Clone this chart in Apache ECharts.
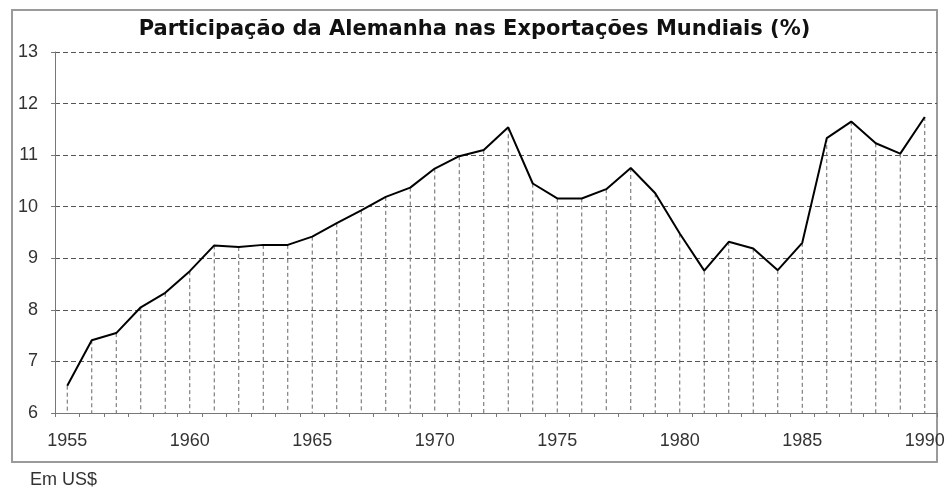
<!DOCTYPE html>
<html>
<head>
<meta charset="utf-8">
<script src="https://cdn.jsdelivr.net/npm/echarts@6/dist/echarts.min.js"></script>
<style>
  html, body { margin: 0; padding: 0; background: #fff; }
  #chart { width: 949px; height: 492px; }
</style>
</head>
<body>
<div id="chart"></div>
<script>
// anos e participação (%)
var years = ['1955','1956','1957','1958','1959','1960','1961','1962','1963','1964',
             '1965','1966','1967','1968','1969','1970','1971','1972','1973','1974',
             '1975','1976','1977','1978','1979','1980','1981','1982','1983','1984',
             '1985','1986','1987','1988','1989','1990'];
var share = [6.53, 7.41, 7.55, 8.05, 8.33, 8.75, 9.25, 9.22, 9.26, 9.26,
             9.42, 9.68, 9.93, 10.19, 10.37, 10.74, 10.98, 11.1, 11.54, 10.45,
             10.16, 10.16, 10.34, 10.75, 10.26, 9.48, 8.76, 9.32, 9.19, 8.77,
             9.3, 11.33, 11.65, 11.23, 11.03, 11.74];
var yTicks = [6, 7, 8, 9, 10, 11, 12, 13];

var chart = echarts.init(document.getElementById('chart'));

var option = {
    animation: false,
    backgroundColor: '#fff',
    title: {
        text: 'Participação da Alemanha nas Exportações Mundiais (%)',
        left: 'center',
        top: 14,
        textStyle: {
            fontFamily: 'DejaVu Sans, sans-serif',
            fontSize: 21,
            fontWeight: 'bold',
            color: '#111'
        }
    },
    grid: { left: 55, right: 12, top: 52, bottom: 79 },
    xAxis: {
        type: 'category',
        data: years,
        boundaryGap: true,
        axisLine: { lineStyle: { color: '#777', width: 1 } },
        axisTick: { show: true, interval: 0, length: 4, lineStyle: { color: '#777' } },
        axisLabel: {
            interval: 4,
            margin: 19,
            fontFamily: 'Liberation Sans, Arial, sans-serif',
            fontSize: 18,
            color: '#333'
        },
        splitLine: { show: false }
    },
    yAxis: {
        type: 'value',
        min: yTicks[0],
        max: yTicks[yTicks.length - 1],
        interval: 1,
        axisLine: { show: true, lineStyle: { color: '#777', width: 1 } },
        axisTick: { show: true, length: 4, lineStyle: { color: '#777' } },
        axisLabel: {
            margin: 17,
            fontFamily: 'Liberation Sans, Arial, sans-serif',
            fontSize: 18,
            color: '#333'
        },
        splitLine: {
            show: true,
            lineStyle: { color: '#555', width: 1, type: [5, 3] }
        }
    },
    graphic: [
        {
            type: 'rect',
            shape: { x: 12, y: 10, width: 925, height: 452 },
            style: { fill: 'none', stroke: '#9a9a9a', lineWidth: 2 },
            silent: true
        },
        {
            type: 'text',
            left: 30,
            top: 471,
            style: {
                text: 'Em US$',
                font: '18px "Liberation Sans", Arial, sans-serif',
                fill: '#333'
            }
        }
    ],
    series: [
        {
            // linhas verticais tracejadas até o eixo
            type: 'custom',
            data: share.map(function (v, i) { return [i, v]; }),
            renderItem: function (params, api) {
                var top = api.coord([api.value(0), api.value(1)]);
                var bottom = api.coord([api.value(0), yTicks[0]]);
                return {
                    type: 'line',
                    shape: { x1: top[0], y1: top[1], x2: bottom[0], y2: bottom[1] },
                    style: { stroke: '#666', lineWidth: 1, lineDash: [4, 3] }
                };
            },
            z: 1,
            silent: true
        },
        {
            type: 'line',
            data: share,
            showSymbol: false,
            symbol: 'none',
            lineStyle: { color: '#000', width: 2 },
            z: 3
        }
    ]
};

chart.setOption(option);
</script>
</body>
</html>
